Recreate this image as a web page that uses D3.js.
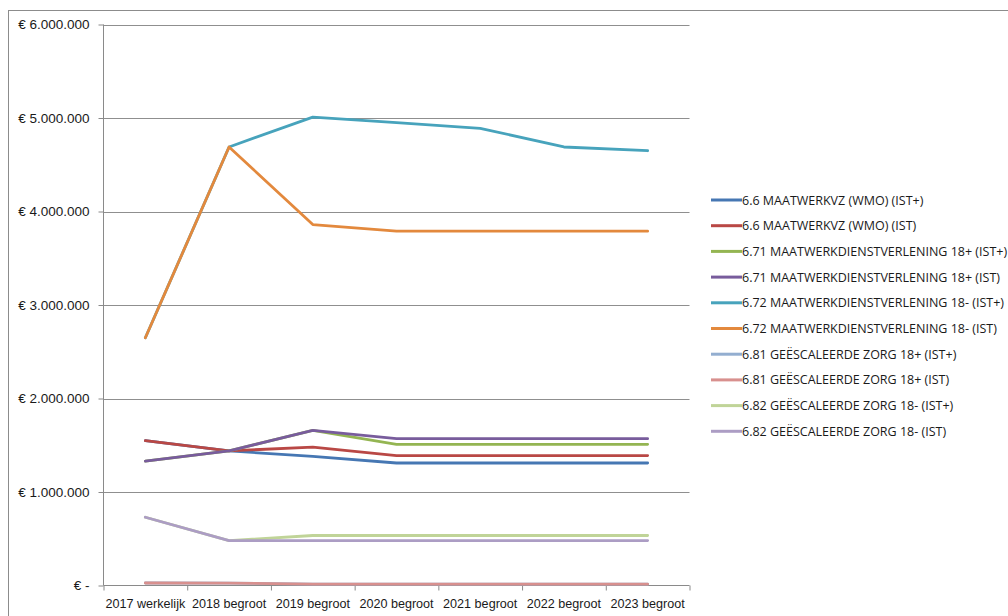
<!DOCTYPE html>
<html>
<head>
<meta charset="utf-8">
<script src="https://cdn.jsdelivr.net/npm/d3@7"></script>
<style>
  html, body { margin: 0; padding: 0; background: #fff; }
  svg { display: block; font-family: "Open Sans", "DejaVu Sans", sans-serif; }
  .axis text { fill: #1a1a1a; }
</style>
</head>
<body>
<svg id="chart" width="1008" height="616"></svg>
<script>
// Budget per product line, 2017 actuals and 2018–2023 budgets (euro)
const categories = ["2017 werkelijk", "2018 begroot", "2019 begroot", "2020 begroot", "2021 begroot", "2022 begroot", "2023 begroot"];

const seriesNames = [
  "6.6 MAATWERKVZ (WMO) (IST+)",
  "6.6 MAATWERKVZ (WMO) (IST)",
  "6.71 MAATWERKDIENSTVERLENING 18+ (IST+)",
  "6.71 MAATWERKDIENSTVERLENING 18+ (IST)",
  "6.72 MAATWERKDIENSTVERLENING 18- (IST+)",
  "6.72 MAATWERKDIENSTVERLENING 18- (IST)",
  "6.81 GEËSCALEERDE ZORG 18+ (IST+)",
  "6.81 GEËSCALEERDE ZORG 18+ (IST)",
  "6.82 GEËSCALEERDE ZORG 18- (IST+)",
  "6.82 GEËSCALEERDE ZORG 18- (IST)"
];

const wmoIstPlus   = [1550000, 1440000, 1380000, 1310000, 1310000, 1310000, 1310000];
const wmoIst       = [1550000, 1440000, 1480000, 1390000, 1390000, 1390000, 1390000];
const md18plusIstPlus = [1330000, 1440000, 1660000, 1510000, 1510000, 1510000, 1510000];
const md18plusIst     = [1330000, 1440000, 1660000, 1570000, 1570000, 1570000, 1570000];
const md18minIstPlus  = [2650000, 4690000, 5010000, 4950000, 4890000, 4690000, 4650000];
const md18minIst      = [2650000, 4690000, 3860000, 3790000, 3790000, 3790000, 3790000];
const gz18plusIstPlus = [27000, 26000, 14000, 14000, 14000, 14000, 14000];
const gz18plusIst     = [27000, 26000, 14000, 14000, 14000, 14000, 14000];
const gz18minIstPlus  = [730000, 480000, 535000, 535000, 535000, 535000, 535000];
const gz18minIst      = [730000, 480000, 480000, 480000, 480000, 480000, 480000];

const yTicks = [0, 1000000, 2000000, 3000000, 4000000, 5000000, 6000000];

const seriesValues = [wmoIstPlus, wmoIst, md18plusIstPlus, md18plusIst, md18minIstPlus,
                      md18minIst, gz18plusIstPlus, gz18plusIst, gz18minIstPlus, gz18minIst];
const colors = ["#4677b3", "#b94845", "#94b552", "#785c9c", "#47a3bc",
                "#e3893d", "#93aed0", "#d8908e", "#c0d498", "#ac9dc4"];

const svg = d3.select("#chart");

// Chart frame
svg.append("rect")
  .attr("x", 8.5).attr("y", 10.5)
  .attr("width", 1010).attr("height", 620)
  .attr("fill", "none").attr("stroke", "#8c8c8c").attr("stroke-width", 1);

const plot = { left: 103.5, right: 689.5, top: 24.5, bottom: 585.5 };

const x = d3.scaleBand().domain(categories).range([plot.left, plot.right]);
const xEdge = d3.scaleLinear().domain([0, categories.length]).range([plot.left, plot.right]);
const y = d3.scaleLinear().domain([0, 6000000]).range([plot.bottom, plot.top]);

const nl = d3.formatLocale({ decimal: ",", thousands: ".", grouping: [3], currency: ["€ ", ""] });
const fmt = v => v === 0 ? "€ -" : "€ " + nl.format(",.0f")(v);

// Horizontal gridlines
svg.append("g")
  .selectAll("line")
  .data(yTicks.filter(d => d > 0))
  .join("line")
  .attr("x1", plot.left).attr("x2", plot.right)
  .attr("y1", d => Math.round(y(d)) + 0.5).attr("y2", d => Math.round(y(d)) + 0.5)
  .attr("stroke", "#8f8f8f").attr("stroke-width", 1);

// Y axis
const yAxis = svg.append("g")
  .attr("class", "axis")
  .attr("transform", `translate(${plot.left},0)`)
  .call(d3.axisLeft(y).tickValues(yTicks).tickFormat(fmt).tickSize(5).tickPadding(9));
yAxis.selectAll("path, line").attr("stroke", "#8a8a8a");
yAxis.select(".domain").attr("d", `M0,${plot.top}V${plot.bottom}`);
yAxis.selectAll("text").attr("font-size", 13.5);

// X axis: tick marks on category boundaries, labels centred in each band
const xTicks = svg.append("g")
  .attr("class", "axis")
  .attr("transform", `translate(0,${plot.bottom})`)
  .call(d3.axisBottom(xEdge).tickValues(d3.range(categories.length + 1)).tickFormat("").tickSize(5));
xTicks.selectAll("path, line").attr("stroke", "#8a8a8a");
xTicks.select(".domain").attr("d", `M${plot.left},0H${plot.right}`);

const xLabels = svg.append("g")
  .attr("class", "axis")
  .attr("transform", `translate(0,${plot.bottom})`)
  .call(d3.axisBottom(x).tickSize(0).tickPadding(14));
xLabels.select(".domain").remove();
xLabels.selectAll("text").attr("font-size", 12.6);

// Series lines
const line = d3.line()
  .defined(d => d != null)
  .x((d, i) => x(categories[i]) + x.bandwidth() / 2)
  .y(d => y(d));

svg.append("g")
  .selectAll("path")
  .data(seriesValues)
  .join("path")
  .attr("d", d => line(d))
  .attr("fill", "none")
  .attr("stroke", (d, i) => colors[i])
  .attr("stroke-width", 2.8)
  .attr("stroke-linejoin", "round")
  .attr("stroke-linecap", "round");

// Legend
const legend = svg.append("g").attr("transform", "translate(711,200)");
const rows = legend.selectAll("g")
  .data(seriesNames)
  .join("g")
  .attr("transform", (d, i) => `translate(0,${i * 25.7})`);
rows.append("line")
  .attr("x1", 0).attr("x2", 31).attr("y1", 0).attr("y2", 0)
  .attr("stroke", (d, i) => colors[i]).attr("stroke-width", 3);
rows.append("text")
  .attr("x", 31).attr("y", 4.5)
  .attr("font-size", 12.5)
  .attr("fill", "#1a1a1a")
  .text(d => d);
</script>
</body>
</html>
